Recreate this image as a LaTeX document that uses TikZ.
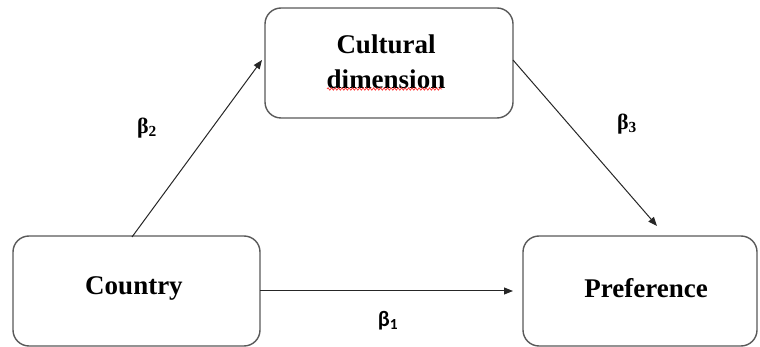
\documentclass[tikz,border=0pt]{standalone}
\usepackage{fontspec}
\setmainfont{Liberation Serif}
\newfontfamily\calib{Carlito}
\usetikzlibrary{arrows.meta,decorations.pathmorphing}
\begin{document}
\begin{tikzpicture}[x=1pt,y=-1pt,
  box/.style={draw=black!65,line width=1.4pt,rounded corners=16pt,fill=white},
  lbl/.style={font=\fontsize{27}{35}\selectfont\bfseries,align=center},
  arr/.style={draw=black!85,line width=1pt,-{Triangle[length=9pt,width=7pt]}},
  beta/.style={font=\fontsize{22}{25}\selectfont\bfseries}]
\useasboundingbox (0,0) rectangle (760,347);
\draw[box] (265,8) rectangle (513,118);
\draw[box] (13,236) rectangle (260,346);
\draw[box] (523,236) rectangle (757,346);
\node[lbl] (cult) at (386,62) {Cultural\\dimension};
\node[lbl] (ctry) at (134,288) {Country};
\node[lbl] (pref) at (646,288) {Preference};
\coordinate (c1) at (132,237);
\coordinate (c2) at (262,60);
\coordinate (c3) at (513,60);
\coordinate (c4) at (657,226);
\coordinate (c5) at (260,291);
\coordinate (c6) at (513,291);
\draw[arr] (c1) -- (c2);
\draw[arr] (c3) -- (c4);
\draw[arr] (c5) -- (c6);
\node[beta] (b2) at (147,128) {β\textsubscript{2}};
\node[beta] (b3) at (627,124) {β\textsubscript{3}};
\node[beta,font=\fontsize{22}{25}\selectfont\calib\bfseries] (b1) at (388,321) {β\textsubscript{1}};
\coordinate (u1) at (327,89);
\coordinate (u2) at (442,89);
\draw[red!80,line width=0.7pt,decorate,decoration={snake,amplitude=1.2pt,segment length=3.5pt}] (u1) -- (u2);
\end{tikzpicture}
\end{document}
